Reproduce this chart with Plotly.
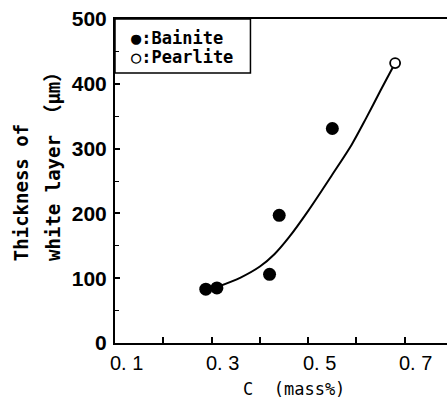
import plotly.graph_objects as go

# ---- data ----
bainite_c = [0.288, 0.311, 0.420, 0.440, 0.550]
bainite_t = [83, 85, 106, 197, 331]
pearlite_c = [0.680]
pearlite_t = [432]

curve_c = [0.31, 0.36, 0.40, 0.43, 0.46, 0.50, 0.55, 0.59, 0.62, 0.65, 0.68]
curve_t = [86, 101, 118, 137, 163, 204, 260, 306, 347, 390, 432]

x_tick_vals = [0.1, 0.2, 0.3, 0.4, 0.5, 0.6, 0.7]
x_label_vals = [0.1, 0.3, 0.5, 0.7]
x_label_text = ["0. 1", "0. 3", "0. 5", "0. 7"]
y_tick_vals = [0, 100, 200, 300, 400, 500]
y_minor_vals = [50, 150, 250, 350, 450]
legend_labels = ["●:Bainite", "○:Pearlite"]

x_title = "C  (mass%)"
y_title_lines = ["Thickness of", "white layer （μm）"]

mono = "DejaVu Sans Mono, Noto Sans CJK JP, monospace"
sans = "Liberation Sans, Arial, sans-serif"

fig = go.Figure()
fig.add_trace(go.Scatter(x=curve_c, y=curve_t, mode="lines",
                         line=dict(color="black", width=2, shape="spline", smoothing=0.8),
                         showlegend=False, hoverinfo="skip"))
fig.add_trace(go.Scatter(x=bainite_c, y=bainite_t, mode="markers",
                         marker=dict(symbol="circle", size=13, color="black"),
                         showlegend=False))
fig.add_trace(go.Scatter(x=pearlite_c, y=pearlite_t, mode="markers",
                         marker=dict(symbol="circle", size=10, color="white",
                                     line=dict(color="black", width=1.8)),
                         showlegend=False))

annotations = []
for v, t in zip(x_label_vals, x_label_text):
    annotations.append(dict(x=v, y=0, xref="x", yref="paper", text=t, showarrow=False,
                            xanchor="center", yanchor="top", xshift=11, yshift=-7,
                            font=dict(family=sans, size=20, color="black")))

# legend box text rows
legend_y = [0.912 + 0.0285, 0.912 - 0.0285]
for lab, ly in zip(legend_labels, legend_y):
    annotations.append(dict(x=0.041, y=ly, xref="paper", yref="paper", text=lab,
                            showarrow=False, xanchor="left", yanchor="middle",
                            font=dict(family=mono, size=17, color="black", weight="bold")))

# axis titles
annotations.append(dict(x=0.539, y=-0.142, xref="paper", yref="paper", text=x_title,
                        showarrow=False, xanchor="center", yanchor="middle",
                        font=dict(family=mono, size=17, color="black")))
for xp, line in zip([-0.281, -0.187], y_title_lines):
    annotations.append(dict(x=xp, y=0.247, xref="paper", yref="paper", text=line,
                            showarrow=False, textangle=-90, xanchor="center", yanchor="bottom",
                            font=dict(family=mono, size=19, color="black", weight="bold")))

fig.update_layout(
    width=447, height=401,
    margin=dict(l=115, r=0, t=19, b=58),
    paper_bgcolor="white", plot_bgcolor="white",
    showlegend=False,
    annotations=annotations,
    shapes=[dict(type="rect", xref="paper", yref="paper", x0=0, x1=0.408, y0=0.833, y1=1,
                 line=dict(color="black", width=1.5), fillcolor="white", layer="below")],
    xaxis=dict(range=[0.1, 0.7874], showline=True, linecolor="black", linewidth=2,
               mirror=True, ticks="inside", tickvals=x_tick_vals, ticklen=6, tickwidth=1.5,
               tickcolor="black", showticklabels=False, showgrid=False, zeroline=False),
    yaxis=dict(range=[0, 500], showline=True, linecolor="black", linewidth=2,
               mirror=False, ticks="inside", tickvals=y_tick_vals, ticklen=5, tickwidth=1.5,
               tickcolor="black", showgrid=False, zeroline=False,
               tickfont=dict(family=sans, size=21, color="black", weight="bold"),
               ticklabelstandoff=2,
               minor=dict(tickvals=y_minor_vals, ticks="inside", ticklen=4,
                          tickwidth=1.2, tickcolor="black", showgrid=False)),
)

fig.write_html("out.html")
